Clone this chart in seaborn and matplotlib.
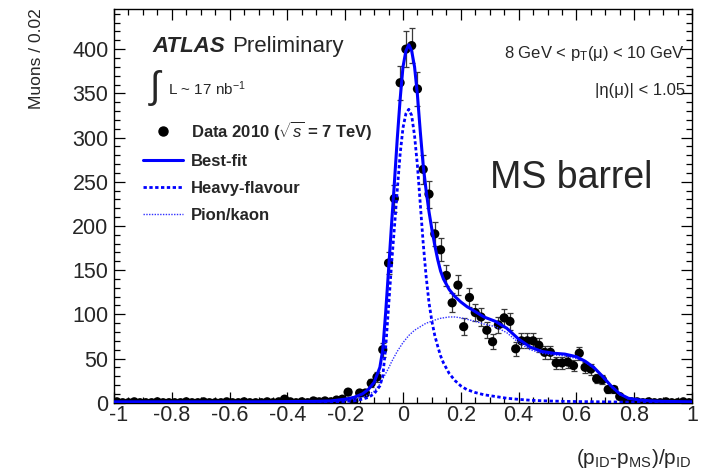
import numpy as np
import pandas as pd
import seaborn as sns
import matplotlib.pyplot as plt
from matplotlib.lines import Line2D
from matplotlib.ticker import MultipleLocator, FixedLocator, FixedFormatter
from matplotlib.transforms import ScaledTranslation

#%% Data
bin_centres = np.round(np.linspace(-0.99, 0.99, 100), 2)   # 0.02 wide bins
muon_counts = [1, 0, 0, 1, 0, 0, 0, 1, 0, 0, 0, 0, 1, 0, 0, 1, 0, 0, 0, 1,
               0, 0, 1, 0, 0, 0, 1, 0, 1,
               4, 1, 0, 1, 0, 2, 1, 2, 1, 3,
               4, 12, 2, 11, 11, 22, 29, 60, 158, 231,
               362, 400, 404, 355, 264, 236, 191, 173, 144, 113,
               133, 86, 119, 102, 97, 82, 69, 88, 96, 92,
               61, 70, 70, 70, 65, 57, 57, 45, 45, 46,
               42, 56, 40, 38, 27, 26, 15, 15, 7, 2,
               1,
               1, 0, 1, 0, 0, 1, 0, 0, 1, 0]

fit_x = [-1.0, -0.5, -0.3, -0.25, -0.2, -0.17, -0.14, -0.12, -0.1, -0.08,
         -0.07, -0.06, -0.05, -0.04, -0.03, -0.02, -0.01, 0.0, 0.01, 0.02,
         0.03, 0.04, 0.05, 0.06, 0.07, 0.08, 0.09, 0.1, 0.11, 0.12,
         0.13, 0.14, 0.16, 0.18, 0.2, 0.22, 0.25, 0.28, 0.32, 0.36,
         0.4, 0.44, 0.48, 0.52, 0.56, 0.6, 0.63, 0.66, 0.69, 0.72,
         0.75, 0.78, 0.82, 0.86, 0.9, 1.0]
best_fit = [1, 1, 1.5, 2, 4, 6, 10, 15, 23, 40,
            60, 102, 150, 200, 248, 298, 343, 380, 398, 405,
            398, 380, 348, 306, 268, 240, 216, 196, 178, 162,
            149, 140, 128, 120, 114, 109, 103, 97, 92, 84,
            72, 63, 58, 56, 55, 52, 47, 40, 30, 19,
            10, 5, 3, 2, 1.5, 1]
heavy_flavour = [0.3, 0.4, 0.5, 0.7, 1.5, 2, 4, 6, 10, 19,
                 30, 62, 108, 155, 197, 240, 281, 311, 327, 332,
                 325, 302, 268, 224, 180, 143, 113, 92, 76, 64,
                 53, 45, 33, 25, 19, 15, 11.5, 9, 7, 5,
                 3.8, 2.8, 2.2, 1.8, 1.5, 1.3, 1.2, 1.1, 1, 0.9,
                 0.8, 0.7, 0.6, 0.5, 0.5, 0.4]
pion_kaon = [0.5, 0.6, 1, 1.5, 2.5, 4, 6, 9, 13, 21,
             27, 33, 39, 46, 52, 58, 63, 68, 72, 76,
             79, 82, 84, 86, 88, 90, 91, 92.5, 93.5, 94.5,
             95.5, 96, 97, 97, 96, 94.5, 92, 89, 86, 79,
             68, 60, 56, 54, 53, 50, 46, 39, 29, 18,
             9, 4.3, 2.4, 1.5, 1, 0.6]

x_ticks = [-1, -0.8, -0.6, -0.4, -0.2, 0, 0.2, 0.4, 0.6, 0.8, 1]
x_tick_labels = ["-1", "-0.8", "-0.6", "-0.4", "-0.2", "0", "0.2", "0.4", "0.6", "0.8", "1"]
y_ticks = [0, 50, 100, 150, 200, 250, 300, 350, 400]
legend_labels = [r"Data 2010 ($\sqrt{s}$ = 7 TeV)", "Best-fit", "Heavy-flavour", "Pion/kaon"]

#%% Style
sns.set_style('ticks')
plt.rcParams['font.family'] = ['Liberation Sans', 'DejaVu Sans']
plt.rcParams['mathtext.fontset'] = 'custom'
plt.rcParams['mathtext.rm'] = 'Liberation Sans'
plt.rcParams['mathtext.it'] = 'Liberation Sans:italic'
plt.rcParams['mathtext.bf'] = 'Liberation Sans:bold'

W, H = 705, 475
fig = plt.figure(figsize=(W / 100, H / 100), dpi=100)
ax = fig.add_axes([114 / W, 1 - 402.7 / H, 578 / W, 394.2 / H])

data = pd.DataFrame({'x': bin_centres, 'n': muon_counts})
curves = pd.DataFrame({'x': fit_x, 'total': best_fit, 'hf': heavy_flavour, 'pk': pion_kaon})

ax.errorbar(data['x'], data['n'], yerr=np.sqrt(data['n']), fmt='none', ecolor='#3a3a3a',
            elinewidth=0.9, capsize=2.5, capthick=0.9, zorder=2)
sns.scatterplot(data=data, x='x', y='n', color='black', s=44, edgecolor='none',
                ax=ax, zorder=3, legend=False)
sns.lineplot(data=curves, x='x', y='pk', color='#3030ff', lw=1.0, linestyle=(0, (1, 1)),
             ax=ax, zorder=4, legend=False)
sns.lineplot(data=curves, x='x', y='hf', color='#0000ff', lw=2.0, linestyle=(0, (1.2, 0.9)),
             ax=ax, zorder=5, legend=False)
sns.lineplot(data=curves, x='x', y='total', color='#0000ff', lw=2.2,
             ax=ax, zorder=6, legend=False)

ax.set_xlim(-1, 1)
ax.set_ylim(0, 446)
ax.xaxis.set_major_locator(FixedLocator(x_ticks))
ax.xaxis.set_major_formatter(FixedFormatter(x_tick_labels))
ax.xaxis.set_minor_locator(MultipleLocator(0.05))
ax.yaxis.set_major_locator(FixedLocator(y_ticks))
ax.yaxis.set_minor_locator(MultipleLocator(10))
ax.tick_params(which='both', direction='in', top=True, right=True, width=0.9, color='black')
ax.tick_params(which='major', length=8)
ax.tick_params(which='minor', length=4)
ax.tick_params(axis='y', labelsize=15.5, pad=4)
ax.tick_params(axis='x', labelsize=15.5, pad=2)
for s in ax.spines.values():
    s.set_linewidth(1.0)
    s.set_color('black')

# nudge the "-1" label right so it clears the "0" on the y axis
first = ax.get_xticklabels()[0]
first.set_transform(first.get_transform() + ScaledTranslation(3 / 72, 0, fig.dpi_scale_trans))

ax.set_ylabel('Muons / 0.02', loc='top', fontsize=12.5, labelpad=20)
ax.set_xlabel(r'(p$_{\mathrm{ID}}$-p$_{\mathrm{MS}}$)/p$_{\mathrm{ID}}$', loc='right',
              fontsize=15, labelpad=15)

# legend
handles = [Line2D([], [], marker='o', color='black', linestyle='none', markersize=6.5),
           Line2D([], [], color='#0000ff', lw=2.2),
           Line2D([], [], color='#0000ff', lw=2.0, linestyle=(0, (1.2, 0.9))),
           Line2D([], [], color='#3030ff', lw=1.0, linestyle=(0, (1, 1)))]
ax.legend(handles, legend_labels, loc='upper left', bbox_to_anchor=(0.05, 0.72),
          frameon=False, prop={'weight': 'bold', 'size': 12}, handlelength=2.4,
          handletextpad=0.5, labelspacing=0.72, borderpad=0, borderaxespad=0)

# annotations
fig.text(152 / W, 1 - 52 / H, 'ATLAS', fontsize=16, weight='bold', style='italic', va='baseline')
fig.text(232 / W, 1 - 52 / H, 'Preliminary', fontsize=16, va='baseline')
fig.text(150 / W, 1 - 88 / H, '\u222b', fontsize=27, va='center')
fig.text(168 / W, 1 - 95 / H, r'L ~ 17 nb$^{-1}$', fontsize=11, va='baseline')
fig.text(685 / W, 1 - 58 / H, '8 GeV < p$_{\\mathrm{T}}$(\u03bc) < 10 GeV', fontsize=12,
         ha='right', va='baseline')
fig.text(685 / W, 1 - 95 / H, '|\u03b7(\u03bc)| < 1.05', fontsize=12, ha='right', va='baseline')
fig.text(490 / W, 1 - 188 / H, 'MS barrel', fontsize=27, va='baseline')

fig.savefig('out.png', dpi=100)
